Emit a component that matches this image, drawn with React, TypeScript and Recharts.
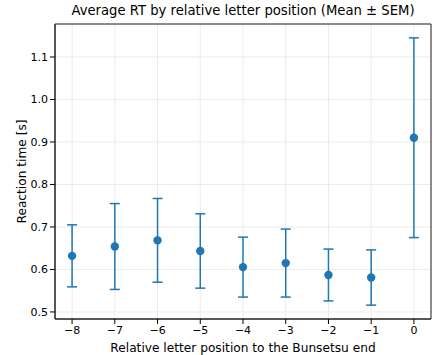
import { ComposedChart, Scatter, ErrorBar, XAxis, YAxis, CartesianGrid, ReferenceArea } from 'recharts';

const positions = [-8, -7, -6, -5, -4, -3, -2, -1, 0];
const meanRT = [0.632, 0.654, 0.6685, 0.6435, 0.6055, 0.615, 0.587, 0.581, 0.910];
const semRT = [0.073, 0.101, 0.0985, 0.0875, 0.0705, 0.080, 0.061, 0.065, 0.235];
const xTicks = [-8, -7, -6, -5, -4, -3, -2, -1, 0];
const yTicks = [0.5, 0.6, 0.7, 0.8, 0.9, 1.0, 1.1];

const data = positions.map((pos, i) => ({ pos, rt: meanRT[i], err: semRT[i] }));

const X_DOMAIN: [number, number] = [-8.4, 0.4];
const Y_DOMAIN: [number, number] = [0.4834, 1.1776];
const BLUE = '#1f77b4';
const FONT = 'DejaVu Sans, sans-serif';

export default function App() {
  return (
    <div style={{ position: 'absolute', left: 0, top: 0, width: 433, height: 355, background: '#fff', fontFamily: FONT }}>
      <div style={{ position: 'absolute', left: 55, width: 376, top: 3, textAlign: 'center', fontSize: 13.2, color: '#000' }}>
        Average RT by relative letter position (Mean ± SEM)
      </div>
      <ComposedChart width={433} height={355} data={data} margin={{ top: 24, right: 2, bottom: 0, left: 0 }}>
        <CartesianGrid stroke="#ebebeb" strokeWidth={1} />
        <XAxis
          type="number"
          dataKey="pos"
          domain={X_DOMAIN}
          ticks={xTicks}
          allowDataOverflow
          height={36}
          tickFormatter={(v) => String(v).replace('-', '\u2212')}
          tick={{ fill: '#000', fontSize: 11, fontFamily: FONT }}
          tickSize={5}
          tickLine={{ stroke: '#000' }}
          axisLine={{ stroke: '#222' }}
          label={{ value: 'Relative letter position to the Bunsetsu end', position: 'insideBottom', offset: 3, fill: '#000', fontSize: 12.2, fontFamily: FONT }}
        />
        <YAxis
          type="number"
          dataKey="rt"
          domain={Y_DOMAIN}
          ticks={yTicks}
          allowDataOverflow
          width={55}
          tickFormatter={(v) => Number(v).toFixed(1)}
          tick={{ fill: '#000', fontSize: 11, fontFamily: FONT }}
          tickSize={5}
          tickLine={{ stroke: '#000' }}
          axisLine={{ stroke: '#222' }}
          label={{ value: 'Reaction time [s]', angle: -90, position: 'insideLeft', offset: 22, style: { textAnchor: 'middle' }, fill: '#000', fontSize: 12.2, fontFamily: FONT }}
        />
        <ReferenceArea x1={X_DOMAIN[0]} x2={X_DOMAIN[1]} y1={Y_DOMAIN[0]} y2={Y_DOMAIN[1]} fill="none" stroke="#222" strokeWidth={1} ifOverflow="visible" />
        <Scatter
          dataKey="rt"
          fill={BLUE}
          isAnimationActive={false}
          shape={(p: any) => <circle cx={p.cx} cy={p.cy} r={4.2} fill={BLUE} />}
        >
          <ErrorBar dataKey="err" direction="y" width={5} stroke={BLUE} strokeWidth={1.5} />
        </Scatter>
      </ComposedChart>
    </div>
  );
}
